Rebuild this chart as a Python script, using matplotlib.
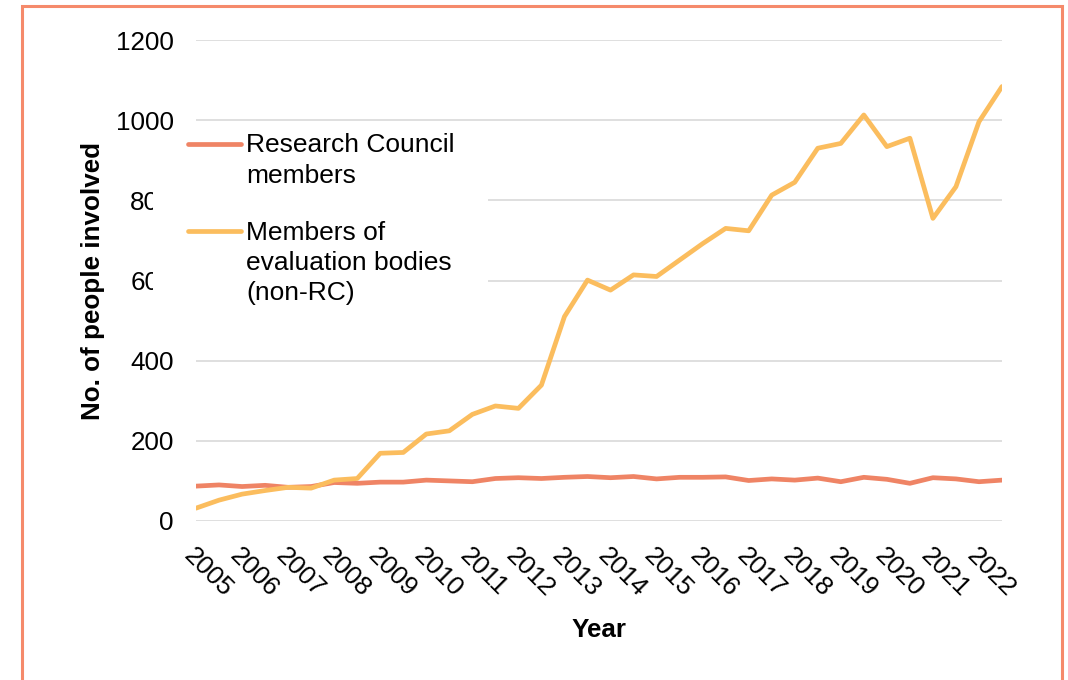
import numpy as np
import matplotlib.pyplot as plt
import matplotlib.transforms as mtransforms
from matplotlib.patches import Rectangle
from matplotlib.lines import Line2D

plt.rcParams['font.family'] = ['Liberation Sans', 'DejaVu Sans']

years = list(range(2005, 2023))
# two readings per year
rc_members = [87, 90, 86, 89, 84, 86, 96, 94, 97, 97, 102, 100, 98, 106, 108, 106, 109, 111,
              108, 111, 105, 109, 109, 110, 101, 105, 102, 107, 98, 109, 104, 94, 108, 105, 98, 102]
eval_members = [32, 52, 67, 76, 84, 82, 102, 106, 169, 171, 217, 225, 266, 287, 281, 339, 510, 601,
                576, 614, 610, 651, 692, 730, 724, 813, 845, 930, 942, 1013, 934, 955, 755, 834, 996, 1084]
labels = ['Research Council\nmembers', 'Members of\nevaluation bodies\n(non-RC)']
colors = ['#EF8465', '#FBBD5E']

W, H = 1068, 680
fig = plt.figure(figsize=(W / 100, H / 100), dpi=100)
ax = fig.add_axes([196 / W, 1 - 521 / H, 806 / W, 481 / H])

x = years[0] + np.arange(len(rc_members)) / 2
for ys, c in zip([rc_members, eval_members], colors):
    ax.plot(x, ys, color=c, lw=3.4, solid_capstyle='round', solid_joinstyle='round', zorder=3)

fs = 18.7
ax.set_xlim(years[0], years[0] + (len(rc_members) - 1) / 2)
ax.set_ylim(0, 1200)
ax.set_yticks(range(0, 1201, 200))
ax.set_xticks(years)
ax.set_xticklabels([str(y) for y in years], rotation=-45, ha='left', va='top',
                   rotation_mode='anchor', fontsize=fs)
off = mtransforms.ScaledTranslation(-6 / 100, 0, fig.dpi_scale_trans)
for lab in ax.get_xticklabels():
    lab.set_transform(lab.get_transform() + off)
ax.tick_params(axis='x', length=0, pad=16)
ax.tick_params(axis='y', length=0, pad=16, labelsize=fs)
ax.grid(axis='y', color='#D9D9D9', lw=1.2)
ax.set_axisbelow(True)
for s in ax.spines.values():
    s.set_visible(False)

ax.set_xlabel('Year', fontsize=fs, fontweight='bold', va='baseline')
ax.xaxis.set_label_coords(0.5, (521 - 637) / 481)
ax.set_ylabel('No. of people involved', fontsize=fs, fontweight='bold', va='center')
ax.yaxis.set_label_coords((93 - 196) / 806, 0.5)

# legend box (covers part of the y tick labels as in the original)
fig.add_artist(Rectangle((153 / W, 1 - 330 / H), (488 - 153) / W, (330 - 133) / H,
                         transform=fig.transFigure, facecolor='white', edgecolor='none', zorder=5))
for lab, c, yb in zip(labels, colors, [153, 240]):
    fig.add_artist(Line2D([188 / W, 241 / W], [1 - (yb - 9) / H] * 2, color=c, lw=3.4,
                          solid_capstyle='round', transform=fig.transFigure, zorder=6))
    fig.text(246 / W, 1 - (yb - 19.5) / H, lab, fontsize=19, va='top', ha='left',
             linespacing=1.33, zorder=6)

# outer frame
fig.add_artist(Rectangle((21.5 / W, -0.05), (1062 - 21.5) / W, 1.05 - 6 / H,
                         transform=fig.transFigure, facecolor='none', edgecolor='#F58A6B',
                         lw=2.2, zorder=7))

fig.savefig('out.png', dpi=100)
